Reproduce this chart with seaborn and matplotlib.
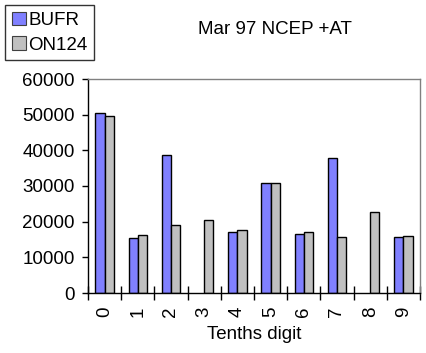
import numpy as np
import pandas as pd
import matplotlib
matplotlib.use('Agg')
import matplotlib.pyplot as plt
import seaborn as sns

digits = ['0', '1', '2', '3', '4', '5', '6', '7', '8', '9']
bufr = [50400, 15300, 38600, np.nan, 17000, 30800, 16500, 37800, np.nan, 15600]
on124 = [49500, 16200, 19000, 20400, 17600, 30800, 17000, 15600, 22600, 15900]
series = ['BUFR', 'ON124']
colors = ['#8080ff', '#c0c0c0']

df = pd.DataFrame({
    'digit': digits * 2,
    'count': bufr + on124,
    'series': ['BUFR'] * len(digits) + ['ON124'] * len(digits),
})

sns.set_style('white')
plt.rcParams['font.family'] = ['Liberation Sans', 'DejaVu Sans']
plt.rcParams['text.color'] = 'black'
plt.rcParams['axes.labelcolor'] = 'black'
plt.rcParams['xtick.color'] = 'black'
plt.rcParams['ytick.color'] = 'black'

fs = 13.5

fig = plt.figure(figsize=(4.27, 3.53), dpi=100)
ax = fig.add_axes([88 / 427, 60 / 353, 332 / 427, 214 / 353])

sns.barplot(
    data=df,
    x='digit',
    y='count',
    hue='series',
    hue_order=series,
    order=digits,
    palette=colors,
    width=0.55,
    gap=0,
    edgecolor='black',
    linewidth=1,
    saturation=1,
    legend=False,
    ax=ax,
)

ax.set_ylim(0, 60000)
ax.set_xlim(-0.5, 9.5)
ax.set_yticks(range(0, 60001, 10000))
ax.set_yticklabels([str(v) for v in range(0, 60001, 10000)], fontsize=fs)
ax.set_xticks(range(10))
ax.set_xticklabels(digits, rotation=90, fontsize=fs)
ax.set_xticks(np.arange(-0.5, 10, 1), minor=True)
ax.tick_params(axis='x', which='major', bottom=True, length=0, pad=10)
ax.tick_params(axis='x', which='minor', bottom=True, direction='inout', length=10, width=1, color='black')
ax.tick_params(axis='y', which='major', left=True, direction='out', length=4.5, width=1, color='black', pad=5)
ax.set_ylabel('')
ax.set_xlabel('Tenths digit', fontsize=fs, labelpad=6)

for side in ['left', 'bottom']:
    ax.spines[side].set_color('black')
    ax.spines[side].set_linewidth(1)
for side in ['top', 'right']:
    ax.spines[side].set_color('#808080')
    ax.spines[side].set_linewidth(1)

handles = [plt.Rectangle((0, 0), 1, 1, facecolor=c, edgecolor='#404040', linewidth=0.8) for c in colors]
leg = fig.legend(
    handles, series,
    loc='upper left',
    bbox_to_anchor=(5 / 427, 1 - 5 / 353),
    fontsize=13.5,
    frameon=True,
    fancybox=False,
    handlelength=0.75,
    handleheight=0.75,
    handletextpad=0.15,
    labelspacing=0.4,
    borderpad=0.35,
    borderaxespad=0,
)
leg.get_frame().set_edgecolor('black')
leg.get_frame().set_linewidth(1)

fig.text(275 / 427, 1 - 30 / 353, 'Mar 97 NCEP +AT', ha='center', va='center', fontsize=fs)

plt.savefig('out.png', dpi=100)
